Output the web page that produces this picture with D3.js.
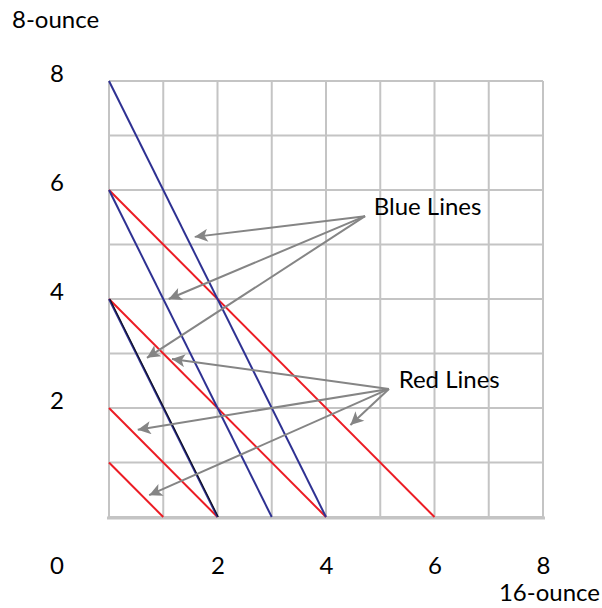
<!doctype html>
<html>
<head>
    <meta charset="UTF-8">
    <title>8-ounce vs 16-ounce</title>
    <script src="https://d3js.org/d3.v7.min.js"></script>
    <style>
        body{ margin:0; background:#fff; }
        text{ font-family: Lato, "Open Sans", sans-serif; fill:#000; }
    </style>
</head>
<body>
    <svg width="602" height="608" id="svg1"></svg>

    <script>
        // ticks
        var xTicks = [2, 4, 6, 8];
        var yTicks = [2, 4, 6, 8];

        // lines, [x-intercept (16-ounce), y-intercept (8-ounce)]
        var blueLines = [[4, 8], [3, 6], [2, 4]];
        var redLines = [[6, 6], [4, 4], [2, 2], [1, 1]];
        var blackLines = [[2, 4]];

        // callouts: label position, arrow start, arrow tips
        var blueNote = {text: "Blue Lines", x: 4.88, y: 5.54, from: [4.72, 5.52],
                        to: [[1.58, 5.14], [1.1, 4.0], [0.7, 2.92]]};
        var redNote = {text: "Red Lines", x: 5.34, y: 2.36, from: [5.16, 2.35],
                       to: [[1.16, 2.9], [0.53, 1.6], [0.74, 0.4], [4.45, 1.69]]};

        var svg = d3.select("#svg1");
        var x = d3.scaleLinear().domain([0, 8]).range([109, 543]);
        var y = d3.scaleLinear().domain([0, 8]).range([517, 81]);

        svg.append("defs").append("marker")
           .attr("id", "head")
           .attr("viewBox", "0 0 10 10")
           .attr("refX", 10).attr("refY", 5)
           .attr("markerWidth", 16).attr("markerHeight", 13)
           .attr("markerUnits", "userSpaceOnUse")
           .attr("orient", "auto")
           .append("path")
           .attr("d", "M0,0L10,5L0,10L2.5,5Z")
           .attr("fill", "#858585");

        // grid
        var grid = svg.append("g");
        grid.selectAll(".v").data(x.ticks(8)).enter().append("line")
            .attr("x1", function(d){ return x(d); })
            .attr("x2", function(d){ return x(d); })
            .attr("y1", y(8)).attr("y2", y(0))
            .attr("stroke", "#c4c4c4").attr("stroke-width", 2);
        grid.selectAll(".h").data(y.ticks(8)).enter().append("line")
            .attr("x1", x(0)).attr("x2", x(8))
            .attr("y1", function(d){ return y(d); })
            .attr("y2", function(d){ return y(d); })
            .attr("stroke", "#c4c4c4").attr("stroke-width", 2);
        grid.append("line")
            .attr("x1", x(0) - 2).attr("x2", x(8) + 2)
            .attr("y1", y(0) + 1).attr("y2", y(0) + 1)
            .attr("stroke", "#c4c4c4").attr("stroke-width", 3);

        function drawLines(data, color, w, dx){
            svg.append("g").selectAll("line").data(data).enter().append("line")
               .attr("x1", x(0) + dx).attr("y1", function(d){ return y(d[1]); })
               .attr("x2", function(d){ return x(d[0]) + dx; }).attr("y2", y(0))
               .attr("stroke", color).attr("stroke-width", w);
        }
        drawLines(redLines, "#ec1c24", 2, 0);
        drawLines(blueLines, "#2e3192", 2, 0);
        drawLines(blackLines, "#111122", 1.2, 0.8);

        // callouts
        [blueNote, redNote].forEach(function(n){
            svg.append("g").selectAll("line").data(n.to).enter().append("line")
               .attr("x1", x(n.from[0])).attr("y1", y(n.from[1]))
               .attr("x2", function(d){ return x(d[0]); })
               .attr("y2", function(d){ return y(d[1]); })
               .attr("stroke", "#858585").attr("stroke-width", 2)
               .attr("marker-end", "url(#head)");
            svg.append("text").attr("x", x(n.x)).attr("y", y(n.y))
               .style("font-size", "24px").text(n.text);
        });

        // axes
        var yAxis = svg.append("g").attr("transform", "translate(57,0)")
            .call(d3.axisLeft(y).tickValues(yTicks).tickSize(0).tickPadding(0));
        var xAxis = svg.append("g").attr("transform", "translate(0,574)")
            .call(d3.axisBottom(x).tickValues(xTicks).tickSize(0).tickPadding(0));
        [yAxis, xAxis].forEach(function(a){
            a.select(".domain").remove();
            a.selectAll("text").attr("x", 0).attr("dy", null).attr("y", 0)
             .attr("text-anchor", "middle")
             .style("font-family", "Lato, sans-serif").style("font-size", "24px")
             .attr("fill", "#000");
        });
        svg.append("text").attr("x", 57).attr("y", 574)
           .attr("text-anchor", "middle").style("font-size", "24px").text("0");

        svg.append("text").attr("x", 12).attr("y", 28)
           .style("font-size", "24px").text("8-ounce");
        svg.append("text").attr("x", 600).attr("y", 601)
           .attr("text-anchor", "end").style("font-size", "24px").text("16-ounce");
    </script>
</body>
</html>
